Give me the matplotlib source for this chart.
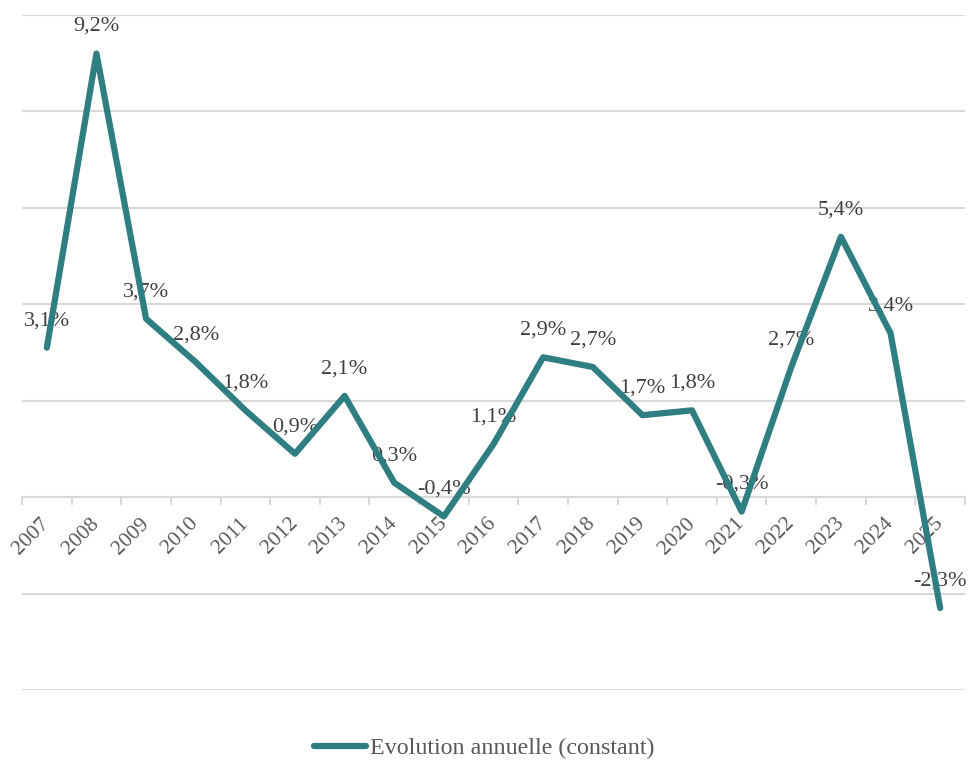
import matplotlib
matplotlib.use("Agg")
import matplotlib.pyplot as plt
import numpy as np

years = [str(y) for y in range(2007, 2026)]
growth = [3.1, 9.2, 3.7, 2.8, 1.8, 0.9, 2.1, 0.3, -0.4, 1.1,
          2.9, 2.7, 1.7, 1.8, -0.3, 2.7, 5.4, 3.4, -2.3]
series_name = "Evolution annuelle (constant)"

LINE = "#2F7E82"
GRID = "#D9D9D9"
TEXT = "#404040"
TICK = "#595959"

plt.rcParams["font.family"] = ["Liberation Serif", "DejaVu Serif"]

fig = plt.figure(figsize=(9.68, 7.6), dpi=100)
ax = fig.add_axes([22 / 968, 1 - 690 / 760, 943 / 968, 675 / 760])

x = np.arange(len(years))
line, = ax.plot(x, growth, color=LINE, lw=4.5, solid_capstyle="round",
                solid_joinstyle="round", label=series_name, zorder=4)

for xi, v in zip(x, growth):
    ax.annotate(f"{v:.1f}".replace(".", ",") + "%", (xi, v),
                xytext=(0, 19.5), textcoords="offset points",
                ha="center", va="center", fontsize=16, color=TEXT, zorder=3)

ax.set_xlim(-0.5, len(years) - 0.5)
ax.set_ylim(-4, 10)
ax.set_yticks(np.arange(-4, 11, 2))
ax.yaxis.grid(True, color=GRID, lw=1.5)
ax.set_axisbelow(True)
ax.tick_params(axis="y", left=False, labelleft=False)

for s in ["left", "right", "top"]:
    ax.spines[s].set_visible(False)
ax.spines["bottom"].set_position(("data", 0))
ax.spines["bottom"].set_color(GRID)
ax.spines["bottom"].set_linewidth(1.5)

ax.set_xticks(x)
ax.set_xticklabels(years, rotation=45, ha="right", va="center",
                   rotation_mode="anchor", fontsize=15.5, color=TICK)
ax.tick_params(axis="x", which="major", length=0, pad=17)
ax.set_xticks(np.arange(-0.5, len(years)), minor=True)
ax.tick_params(axis="x", which="minor", length=6, width=1.5, color=GRID)

fig.legend(handles=[line], loc="center", bbox_to_anchor=(0.5, 1 - 748 / 760),
           frameon=False, fontsize=17.3, labelcolor=TICK, handlelength=2.2,
           handletextpad=0.15)

fig.savefig("out.png", dpi=100)
